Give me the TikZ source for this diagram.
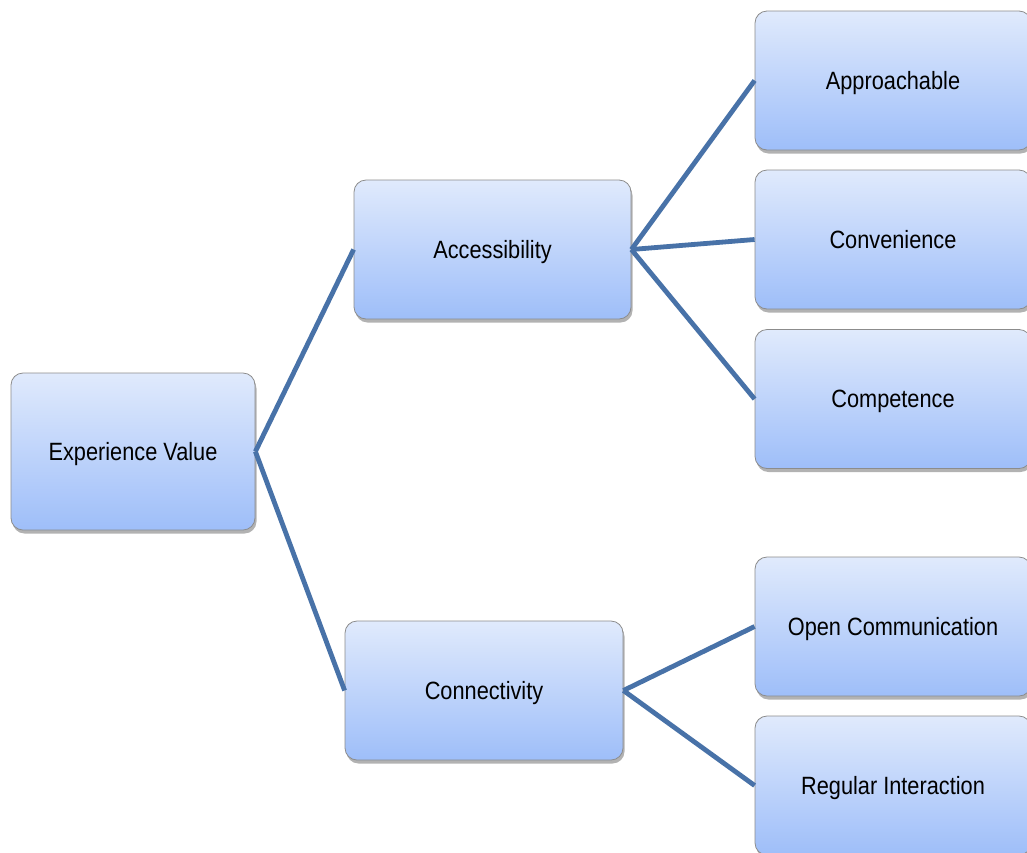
\documentclass[tikz,border=0pt]{standalone}
\usepackage{fontspec}
\setmainfont{Liberation Sans}[FakeStretch=0.87]
\usetikzlibrary{shadows}
\definecolor{boxtop}{RGB}{224,234,252}
\definecolor{boxbot}{RGB}{158,190,249}
\definecolor{boxline}{RGB}{140,140,140}
\definecolor{linkblue}{RGB}{72,114,168}
\tikzset{
  box/.style={draw=boxline, line width=0.8pt, rounded corners=12pt,
    top color=boxtop, bottom color=boxbot,
    drop shadow={shadow xshift=1.5pt, shadow yshift=-3.5pt, opacity=0.3, fill=black},
    align=center, inner sep=0pt, text depth=-3pt,
    font=\fontsize{25}{30}\selectfont},
  link/.style={draw=linkblue, line width=4.8pt},
}
\begin{document}
\begin{tikzpicture}[x=1pt, y=-1pt]
\useasboundingbox (0,0) rectangle (1027,852);
\clip (0,0) rectangle (1027,852);
\fill[white] (0,0) rectangle (1027,852);

% root and second level
\node[box, minimum width=244pt, minimum height=157pt] (ev)  at (133,451.5) {Experience Value};
\node[box, minimum width=277pt, minimum height=139pt] (acc) at (492.5,249.5) {Accessibility};
\node[box, minimum width=278pt, minimum height=139pt] (con) at (484,690.5) {Connectivity};

% leaves
\node[box, minimum width=276pt, minimum height=139pt] (app) at (893,80.5)  {Approachable};
\node[box, minimum width=276pt, minimum height=139pt] (cnv) at (893,239.5) {Convenience};
\node[box, minimum width=276pt, minimum height=139pt] (cmp) at (893,399)   {Competence};
\node[box, minimum width=276pt, minimum height=139pt] (opn) at (893,626.5) {Open Communication};
\node[box, minimum width=276pt, minimum height=139pt] (reg) at (893,785.5) {Regular Interaction};

% connectors
\draw[link] (ev.east) -- (acc.west);
\draw[link] (ev.east) -- (con.west);
\draw[link] (acc.east) -- (app.west);
\draw[link] (acc.east) -- (cnv.west);
\draw[link] (acc.east) -- (cmp.west);
\draw[link] (con.east) -- (opn.west);
\draw[link] (con.east) -- (reg.west);
\end{tikzpicture}
\end{document}
